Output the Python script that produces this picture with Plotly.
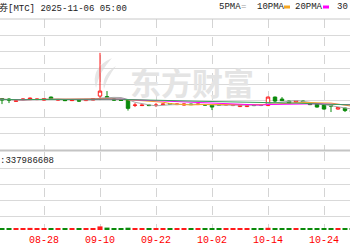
import plotly.graph_objects as go
import pandas as pd

# ---------------- data ----------------
dates = ["08-18", "08-19", "08-20", "08-21", "08-22", "08-25", "08-26", "08-27", "08-28", "08-29",
         "09-02", "09-03", "09-04", "09-05", "09-08", "09-09", "09-10", "09-11", "09-12", "09-15",
         "09-16", "09-17", "09-18", "09-19", "09-22", "09-23", "09-24", "09-25", "09-26", "09-29",
         "09-30", "10-01", "10-02", "10-03", "10-06", "10-07", "10-08", "10-09", "10-10", "10-13",
         "10-14", "10-15", "10-16", "10-17", "10-20", "10-21", "10-22", "10-23", "10-24", "10-27",
         "10-28", "10-29", "10-30"]

open_ = [1.540, 1.555, 1.570, 1.555, 1.488, 1.540, 1.540, 1.540, 1.524, 1.616,
         1.524, 1.524, 1.509, 1.509, 1.509, 1.524, 1.646, 1.631, 1.555, 1.524,
         1.524, 1.363, 1.357, 1.372, 1.363, 1.387, 1.418, 1.387, 1.372, 1.402,
         1.387, 1.387, 1.372, 1.387, 1.372, 1.357, 1.326, 1.326, 1.372, 1.387,
         1.357, 1.616, 1.555, 1.494, 1.463, 1.494, 1.418, 1.402, 1.372, 1.357,
         1.250, 1.280, 1.220]
close = [1.555, 1.540, 1.524, 1.524, 1.500, 1.555, 1.585, 1.555, 1.570, 1.555,
         1.540, 1.509, 1.524, 1.494, 1.540, 1.570, 1.799, 1.601, 1.524, 1.515,
         1.271, 1.372, 1.372, 1.357, 1.372, 1.402, 1.402, 1.402, 1.402, 1.387,
         1.402, 1.372, 1.311, 1.372, 1.387, 1.387, 1.372, 1.357, 1.357, 1.372,
         1.616, 1.494, 1.509, 1.433, 1.509, 1.479, 1.387, 1.311, 1.250, 1.341,
         1.296, 1.204, 1.159]
high = [1.570, 1.570, 1.585, 1.585, 1.509, 1.570, 1.601, 1.570, 1.585, 1.631,
        1.555, 1.540, 1.540, 1.524, 1.555, 1.585, 2.966, 1.799, 1.570, 1.540,
        1.540, 1.433, 1.387, 1.387, 1.433, 1.418, 1.433, 1.418, 1.418, 1.418,
        1.418, 1.402, 1.387, 1.402, 1.402, 1.402, 1.387, 1.372, 1.387, 1.402,
        1.631, 1.631, 1.616, 1.509, 1.524, 1.509, 1.433, 1.418, 1.387, 1.372,
        1.311, 1.296, 1.235]
low = [1.524, 1.524, 1.402, 1.433, 1.479, 1.524, 1.524, 1.524, 1.509, 1.540,
       1.509, 1.494, 1.494, 1.479, 1.494, 1.509, 1.524, 1.585, 1.509, 1.509,
       1.204, 1.311, 1.341, 1.341, 1.311, 1.372, 1.387, 1.372, 1.357, 1.372,
       1.372, 1.357, 1.220, 1.357, 1.357, 1.341, 1.311, 1.311, 1.341, 1.341,
       1.341, 1.433, 1.494, 1.418, 1.448, 1.463, 1.372, 1.296, 1.235, 1.159,
       1.235, 1.159, 1.128]
volume = [18000000, 17000000, 20000000, 19000000, 16000000, 17000000, 21000000, 18000000, 19000000, 20000000,
          17000000, 16000000, 18000000, 17000000, 19000000, 20000000, 36000000, 24000000, 19000000, 17000000,
          23000000, 18000000, 16000000, 17000000, 18000000, 17000000, 16000000, 17000000, 18000000, 16000000,
          17000000, 16000000, 20000000, 17000000, 16000000, 17000000, 18000000, 17000000, 16000000, 17000000,
          22000000, 20000000, 18000000, 17000000, 18000000, 16000000, 18000000, 19000000, 20000000, 19000000,
          18000000, 20000000, 19000000]

tick_dates = ["08-28", "09-10", "09-22", "10-02", "10-14", "10-24"]
ma_periods = [5, 10, 20, 30]
ma_colors = ["#a8a8a8", "#f5a623", "#ff00ff", "#3aa05a"]
title_text = "券[MTC] 2025-11-06 05:00"
vol_text = ":337986608"
watermark = "东方财富"

# ---------------- figure ----------------
W, H = 350, 250
def px(x):
    return x / W
def py(y):
    return 1 - y / H

RED = "#ff1a1a"
GREEN = "#0a8a0a"
LABEL_RED = "#ff0000"
idx = list(range(len(dates)))
tickvals = [dates.index(d) for d in tick_dates]
xr = [1.714, 51.714]

fig = go.Figure()

closes = pd.Series(close)
for n, c in zip(ma_periods, ma_colors):
    ma = closes.rolling(n, min_periods=1).mean()
    fig.add_trace(go.Scatter(x=idx, y=ma, mode="lines", line=dict(color=c, width=1),
                             hoverinfo="skip", showlegend=False, xaxis="x", yaxis="y"))

fig.add_trace(go.Candlestick(
    x=idx, open=open_, high=high, low=low, close=close,
    increasing=dict(line=dict(color=RED, width=1), fillcolor="white"),
    decreasing=dict(line=dict(color=GREEN, width=1), fillcolor=GREEN),
    whiskerwidth=0, showlegend=False, hoverinfo="skip", xaxis="x", yaxis="y"))

vcolors = [RED if c >= o else GREEN for o, c in zip(open_, close)]
fig.add_trace(go.Bar(x=idx, y=volume, marker=dict(color=vcolors, line=dict(width=0)),
                     width=0.72, showlegend=False, hoverinfo="skip", xaxis="x2", yaxis="y2"))

grid = "#d9d9d9"
fig.update_layout(
    width=W, height=H, margin=dict(l=0, r=0, t=0, b=0),
    paper_bgcolor="white", plot_bgcolor="white",
    xaxis=dict(domain=[0, 1], range=xr, anchor="y", tickvals=tickvals, showticklabels=False,
               showgrid=True, gridcolor="#d4d4d4", griddash="dash", gridwidth=1,
               zeroline=False, showline=False, rangeslider=dict(visible=False)),
    yaxis=dict(domain=[py(150), py(19)], range=[0, 4], tick0=0, dtick=0.5, showticklabels=False,
               showgrid=True, gridcolor=grid, zeroline=False, showline=False),
    xaxis2=dict(domain=[0, 1], range=xr, anchor="y2", matches="x", tickvals=tickvals,
                showticklabels=False,
                showgrid=True, gridcolor="#d4d4d4", griddash="dash", gridwidth=1,
                zeroline=False, showline=False, ticks=""),
    yaxis2=dict(domain=[py(230), py(152)], range=[0, 7.8e8], tick0=1.4e8, dtick=1.6e8,
                showticklabels=False, showgrid=True, gridcolor=grid, zeroline=False, showline=False),
    bargap=0.28,
)

def P(x, y):
    return f"{px(x):.4f},{py(y):.4f}"

shapes = [
    dict(type="line", xref="paper", yref="paper", x0=0, x1=1, y0=py(150.5), y1=py(150.5),
         line=dict(color="#c4c4c4", width=2)),
    dict(type="line", xref="paper", yref="paper", x0=0, x1=1, y0=py(19), y1=py(19),
         line=dict(color="#c8c8c8", width=1)),
    # legend swatches
    dict(type="rect", xref="paper", yref="paper", x0=px(284), x1=px(290), y0=py(8.5), y1=py(5.5),
         fillcolor="#f5a623", line=dict(width=0)),
    dict(type="rect", xref="paper", yref="paper", x0=px(323), x1=px(329), y0=py(8.5), y1=py(5.5),
         fillcolor="#ff00ff", line=dict(width=0)),
    # watermark logo
    dict(type="path", xref="paper", yref="paper", layer="below",
         path=f"M {P(112,58)} Q {P(90,68)} {P(96,88)} Q {P(99,72)} {P(112,58)} Z",
         fillcolor="#e6e6e6", line=dict(width=0)),
    dict(type="path", xref="paper", yref="paper", layer="below",
         path=f"M {P(116,66)} Q {P(101,75)} {P(104,89)} Q {P(107,78)} {P(116,66)} Z",
         fillcolor="#e6e6e6", line=dict(width=0)),
]
fig.update_layout(shapes=shapes)

mono = "Liberation Mono, Noto Sans CJK SC"
def txt(x, y, s, color="#222222", size=9, family=mono, anchor="left", weight="normal"):
    return dict(text=s, x=px(x), y=py(y), xref="paper", yref="paper", xanchor=anchor,
                yanchor="middle", showarrow=False, borderpad=0,
                font=dict(family=family, size=size, color=color, weight=weight))

annotations = [
    txt(-2, 8, title_text),
    txt(218, 7, "5PMA"),
    txt(240, 7, "=", color="#999999"),
    txt(256, 7, "10PMA"),
    txt(294, 7, "20PMA"),
    txt(336, 7, "30"),
    txt(-1, 161, vol_text),
    txt(192, 81, watermark, color="#e4e4e4", size=31, family="Noto Sans CJK SC", anchor="center", weight="bold"),
]
# date labels under the volume panel, placed on the shared category scale
for v, d in zip(tickvals, tick_dates):
    annotations.append(dict(text=d, x=v, xref="x2", y=py(240), yref="paper", xanchor="center",
                            yanchor="middle", showarrow=False, borderpad=0,
                            font=dict(family="Liberation Mono", size=10, color=LABEL_RED)))
fig.update_layout(annotations=annotations)

fig.write_html("out.html")
